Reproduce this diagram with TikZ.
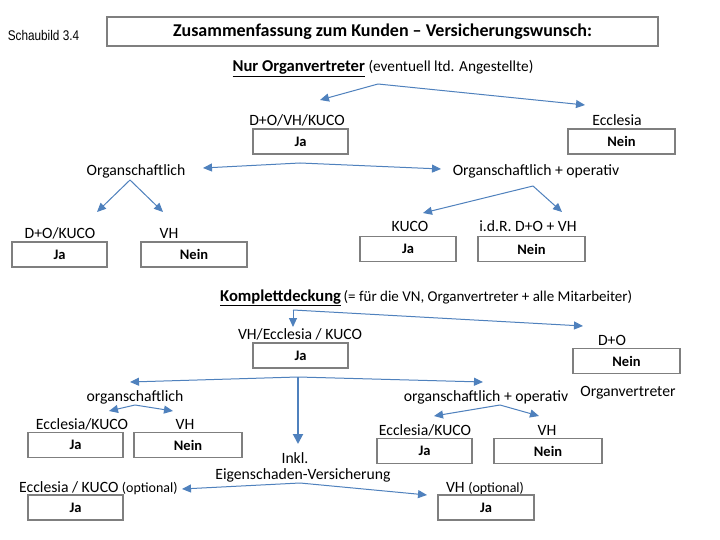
\documentclass[tikz,border=0pt]{standalone}
\usepackage{fontspec}
\setmainfont{Carlito}
\newfontfamily\narrowfont{Liberation Sans}
\usetikzlibrary{arrows.meta}
\definecolor{arr}{RGB}{79,129,189}
\definecolor{bx}{RGB}{127,127,127}
\newcommand{\ulhead}[1]{\fontsize{16.6}{19}\selectfont\bfseries\underline{#1}}
\tikzset{
  lbl/.style={anchor=base, inner sep=0pt, font=\fontsize{15.7}{18}\selectfont},
  ans/.style={draw=bx, line width=1.1pt, minimum height=25pt, inner sep=0pt, font=\bfseries\fontsize{14.5}{16}\selectfont},
  arrline/.style={draw=arr, line width=1pt, -{Triangle[length=9pt,width=8pt]}},
  thickarr/.style={draw=arr, line width=2pt, -{Triangle[length=10pt,width=10pt]}},
}
\begin{document}
\begin{tikzpicture}[x=1pt,y=-1pt]
\useasboundingbox (0,0) rectangle (720,540);
\fill[white] (0,0) rectangle (720,540);

% header
\node[inner sep=0pt] (sch) at (43.5,35) {\scalebox{0.84}[1]{\narrowfont\fontsize{14}{16}\selectfont Schaubild 3.4}};
\node[draw=bx, line width=1.1pt, minimum width=551pt, minimum height=29pt, inner sep=0pt,
      font=\bfseries\fontsize{18}{20}\selectfont] (title) at (382.5,31.5) {Zusammenfassung zum Kunden -- Versicherungswunsch:};
\node[lbl] (nur) at (383,72) {{\ulhead{Nur Organvertreter}} {\fontsize{15.3}{18}\selectfont(eventuell ltd. Angestellte)}};

% first level
\coordinate (c1) at (378,84);
\coordinate (t1a) at (320,100);
\coordinate (t1b) at (585,105);
\draw[arrline] (c1) -- (t1a);
\draw[arrline] (c1) -- (t1b);

\node[lbl] (l1) at (297,126) {D+O/VH/KUCO};
\node[ans, minimum width=95pt] (b1) at (300.5,141.5) {Ja};
\node[lbl] (l2) at (617,126) {Ecclesia};
\node[ans, minimum width=107pt] (b2) at (621.5,141.5) {Nein};

\coordinate (c2) at (300,163);
\coordinate (t2a) at (203,168);
\coordinate (t2b) at (441,169);
\draw[arrline] (c2) -- (t2a);
\draw[arrline] (c2) -- (t2b);

\node[lbl] (org1) at (136,176) {Organschaftlich};
\node[lbl] (org2) at (536,176) {Organschaftlich + operativ};

\coordinate (c3) at (130,180);
\coordinate (t3a) at (97,212);
\coordinate (t3b) at (163,212);
\draw[arrline] (c3) -- (t3a);
\draw[arrline] (c3) -- (t3b);

\coordinate (c4) at (533,186);
\coordinate (t4a) at (423,213);
\coordinate (t4b) at (562,212);
\draw[arrline] (c4) -- (t4a);
\draw[arrline] (c4) -- (t4b);

\node[lbl] (l3) at (60,238) {D+O/KUCO};
\node[ans, minimum width=95pt] (b3) at (59.5,254.5) {Ja};
\node[lbl] (l4) at (169,238) {VH};
\node[ans, minimum width=106pt] (b4) at (194,254.5) {Nein};
\node[lbl] (l5) at (410,232) {KUCO};
\node[ans, minimum width=96pt] (b5) at (408,249) {Ja};
\node[lbl] (l6) at (528,232) {i.d.R. D+O + VH};
\node[ans, minimum width=107pt] (b6) at (531.5,249) {Nein};

% Komplettdeckung
\node[lbl, anchor=base west] (komp) at (220,301) {{\ulhead{Komplettdeckung}}\,{\fontsize{15}{18}\selectfont(= für die VN, Organvertreter + alle Mitarbeiter)}};

\coordinate (c5) at (293,310);
\coordinate (t5a) at (293,327);
\coordinate (t5b) at (583,326);
\draw[arrline] (c5) -- (t5a);
\draw[arrline] (c5) -- (t5b);

\node[lbl] (l7) at (300,339) {VH/Ecclesia / KUCO};
\node[ans, minimum width=95pt] (b7) at (300.5,355.5) {Ja};
\node[lbl] (l8) at (612,345) {D+O};
\node[ans, minimum width=107pt] (b8) at (626.5,361) {Nein};
\node[lbl] (l9) at (628,396) {Organvertreter};

\coordinate (c6) at (298,377);
\coordinate (t6a) at (130,382);
\coordinate (t6b) at (483,382);
\coordinate (t6c) at (298,444);
\draw[arrline] (c6) -- (t6a);
\draw[arrline] (c6) -- (t6b);
\draw[thickarr] (c6) -- (t6c);

\node[lbl] (org3) at (135,401) {organschaftlich};
\coordinate (c7) at (135,405);
\coordinate (t7a) at (109,411);
\coordinate (t7b) at (173,411);
\draw[arrline] (c7) -- (t7a);
\draw[arrline] (c7) -- (t7b);

\node[lbl] (org4) at (486,401) {organschaftlich + operativ};
\coordinate (c8) at (500,405);
\coordinate (t8a) at (434,416);
\coordinate (t8b) at (539,416);
\draw[arrline] (c8) -- (t8a);
\draw[arrline] (c8) -- (t8b);

\node[lbl] (l10) at (82,429) {Ecclesia/KUCO};
\node[ans, minimum width=95pt] (b9) at (75.5,445) {Ja};
\node[lbl] (l11) at (185,429) {VH};
\node[ans, minimum width=108pt] (b10) at (188,445) {Nein};

\node[lbl] (l12) at (425,435) {Ecclesia/KUCO};
\node[ans, minimum width=95pt] (b11) at (424.5,451) {Ja};
\node[lbl] (l13) at (547,435) {VH};
\node[ans, minimum width=108pt] (b12) at (548,451) {Nein};

\node[lbl] (inkl) at (295,463) {Inkl.};
\node[lbl] (eig) at (303,479) {Eigenschaden-Versicherung};

\coordinate (c9) at (300,483);
\coordinate (t9a) at (182,489);
\coordinate (t9b) at (427,495);
\draw[arrline] (c9) -- (t9a);
\draw[arrline] (c9) -- (t9b);

\node[lbl, anchor=base west] (l14) at (19,492) {Ecclesia / KUCO {\fontsize{14}{15}\selectfont(optional)}};
\node[ans, minimum width=95pt] (b13) at (75.5,507.5) {Ja};
\node[lbl] (l15) at (485,492) {VH {\fontsize{14}{15}\selectfont(optional)}};
\node[ans, minimum width=96pt] (b14) at (486,507.5) {Ja};
\end{tikzpicture}
\end{document}
